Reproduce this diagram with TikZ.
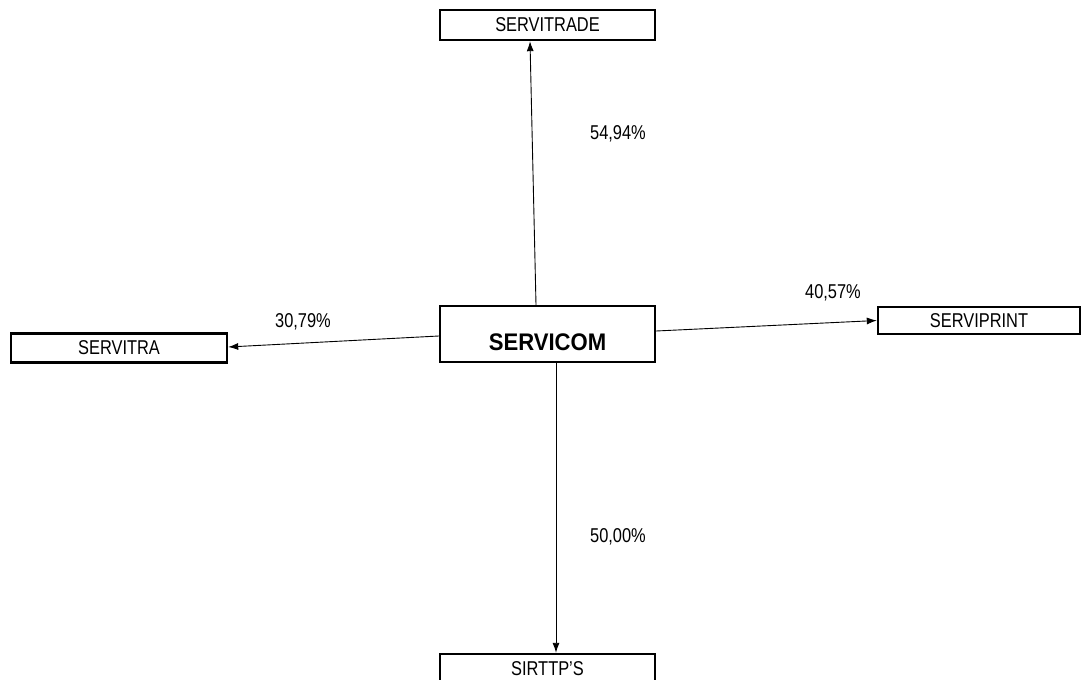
\documentclass[tikz,border=0pt]{standalone}
\usepackage{fontspec}
\setmainfont{Liberation Sans}[FakeStretch=0.82]
\newfontfamily\boldcond{Liberation Sans}[FakeStretch=0.92]
\usetikzlibrary{arrows.meta}
\begin{document}
\begin{tikzpicture}[x=1pt,y=-1pt,
  box/.style={draw,line width=2.4pt,inner sep=0pt,font=\fontsize{20}{22}\selectfont},
  pct/.style={inner sep=0pt,font=\fontsize{20}{22}\selectfont},
  link/.style={line width=0.9pt,-{Latex[length=10pt,width=7pt]}}]
\clip (0,0) rectangle (1082,680);
\fill[white] (0,0) rectangle (1082,680);
\node[box,minimum width=215pt,minimum height=30pt] (servitrade) at (547.5,25) {SERVITRADE};
\node[box,minimum width=215pt,minimum height=56pt,font=\fontsize{24}{26}\boldcond\bfseries] (servicom) at (547.5,334) {\raisebox{-16.5pt}[0pt][0pt]{SERVICOM}};
\node[box,minimum width=216pt,minimum height=29pt] (servitra) at (119,348) {SERVITRA};
\node[box,minimum width=202pt,minimum height=27pt] (serviprint) at (979,320.5) {SERVIPRINT};
\node[box,minimum width=215pt,minimum height=30pt] (sirttps) at (547.5,669) {SIRTTP'S};
\draw[link] ([xshift=-11.5pt]servicom.north) -- ([xshift=-17.5pt]servitrade.south);
\draw[link] ([yshift=-2pt]servicom.west) -- ([yshift=1pt]servitra.east);
\draw[link] ([yshift=3pt]servicom.east) -- (serviprint.west);
\draw[link] ([xshift=8.5pt]servicom.south) -- ([xshift=8.5pt]sirttps.north);
\node[pct] (p1) at (618,134) {54,94\%};
\node[pct] (p2) at (303,322) {30,79\%};
\node[pct] (p3) at (833,293) {40,57\%};
\node[pct] (p4) at (618,537) {50,00\%};
\end{tikzpicture}
\end{document}
